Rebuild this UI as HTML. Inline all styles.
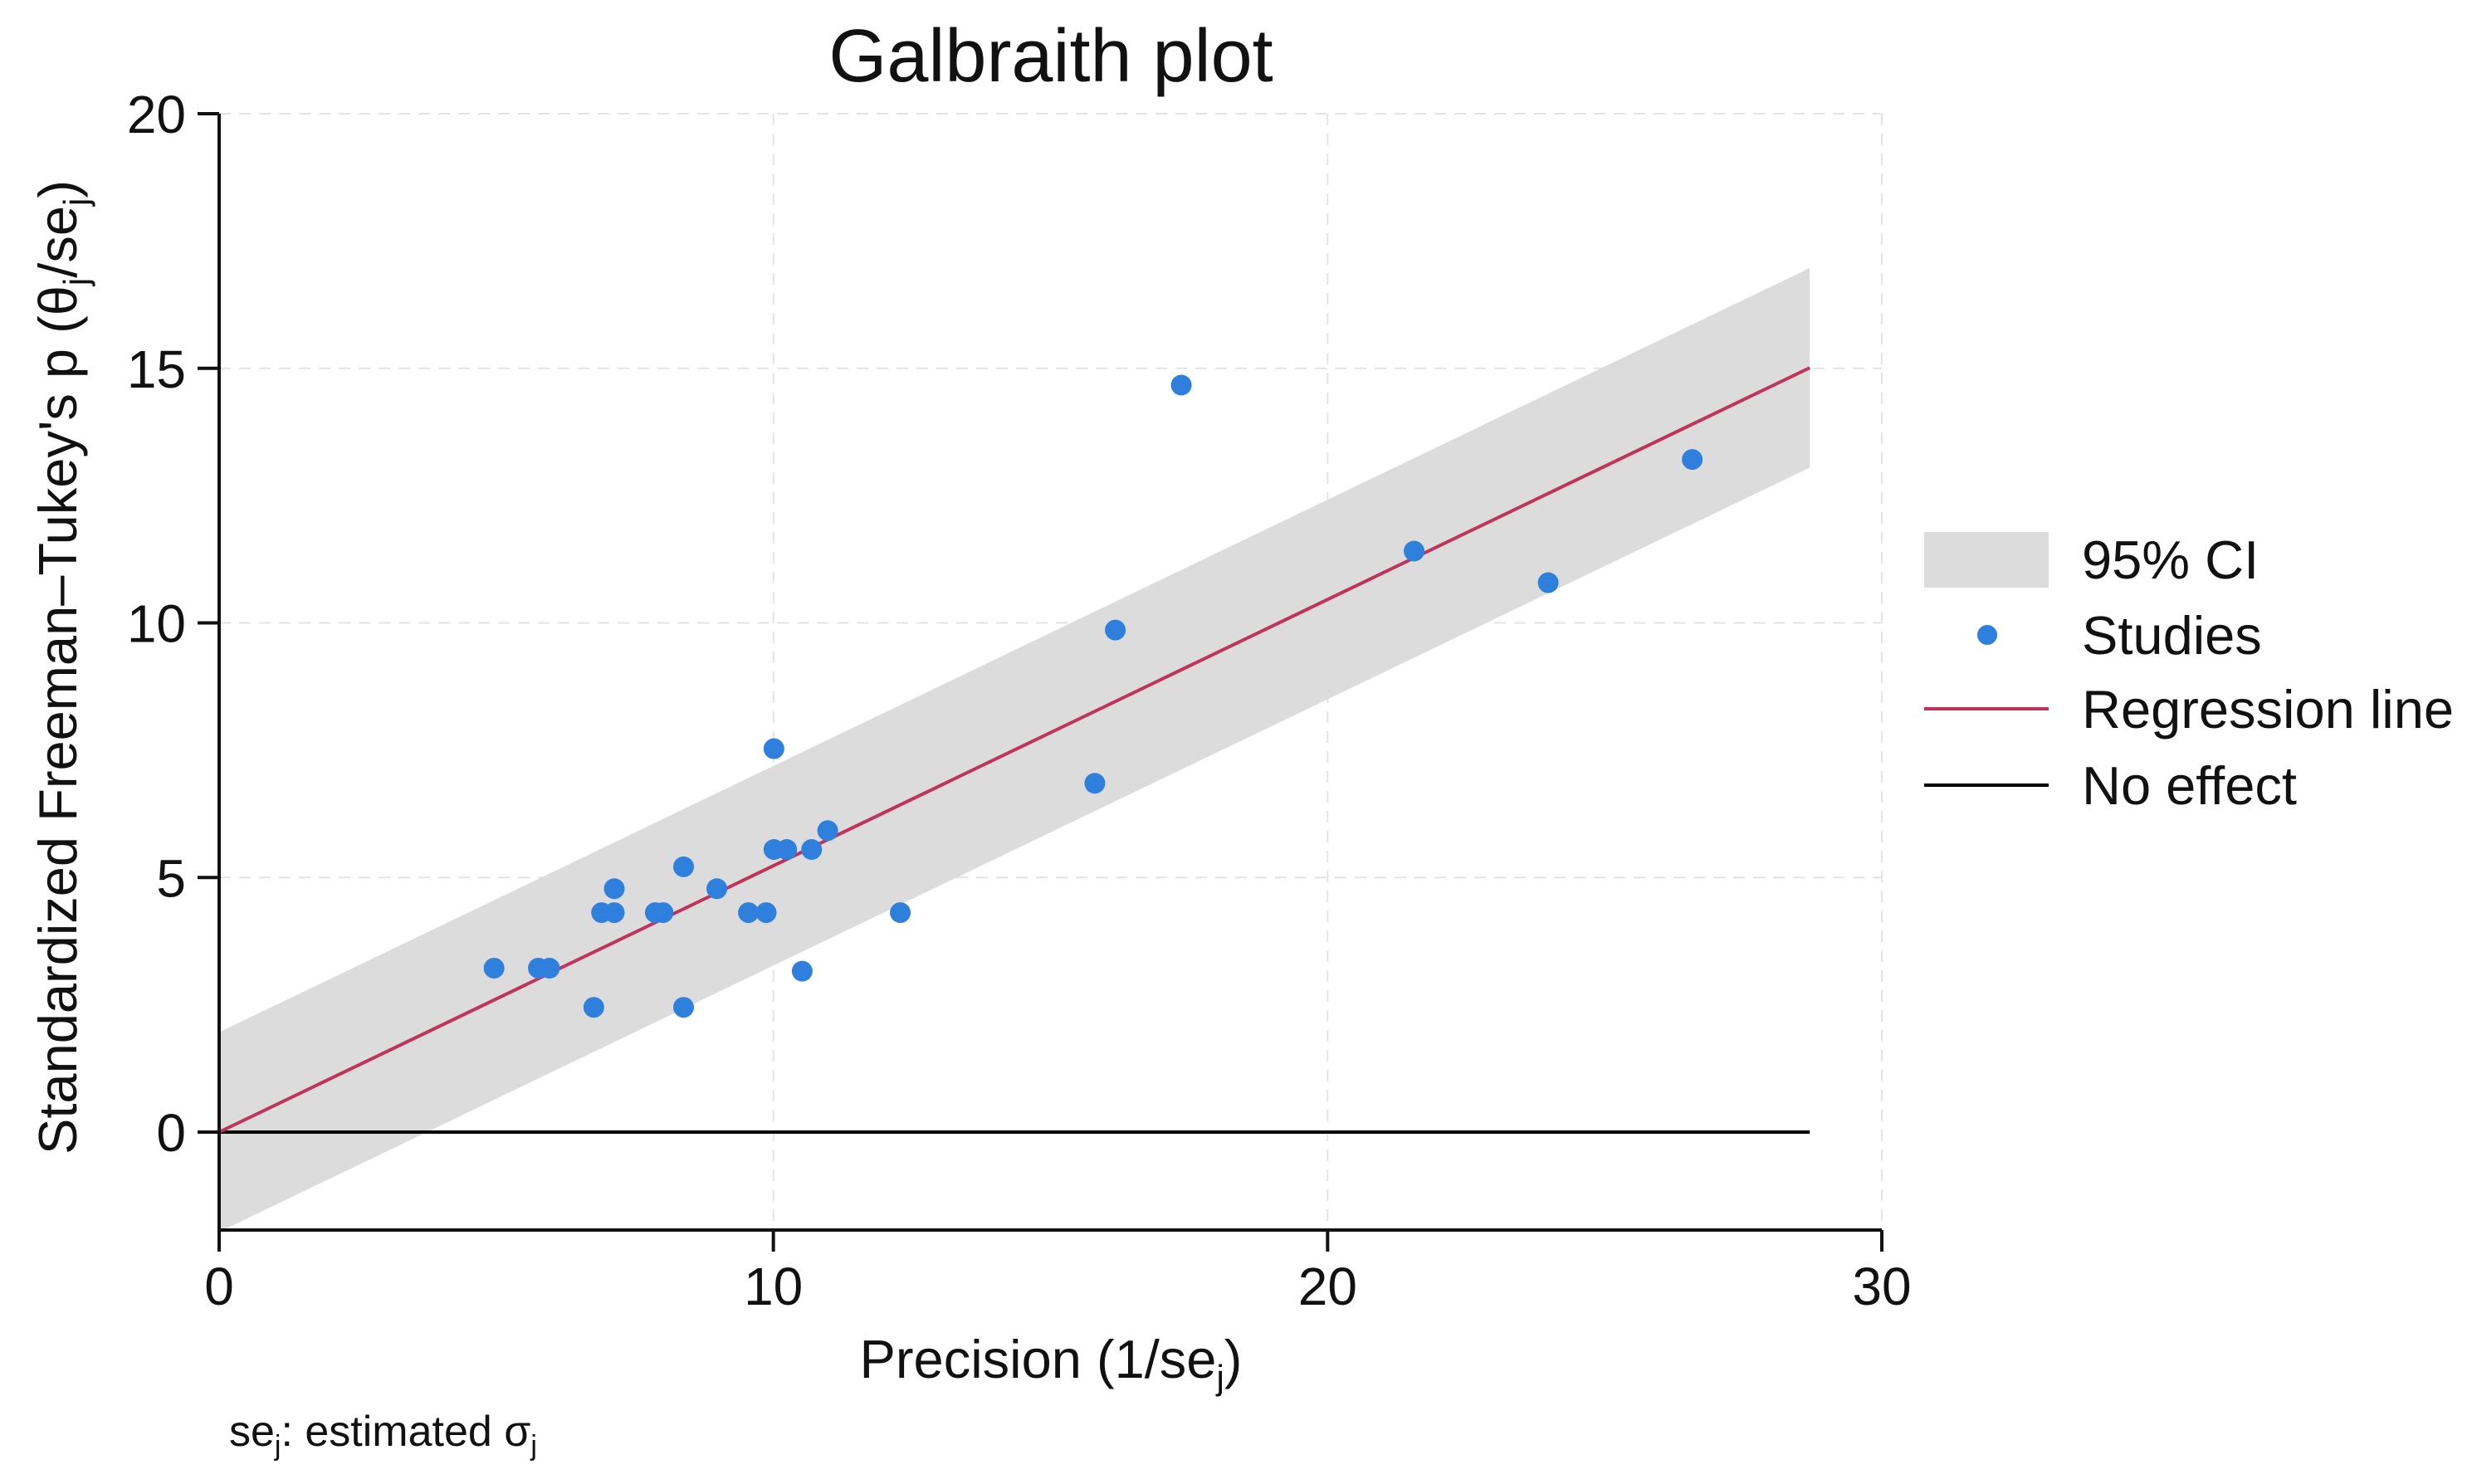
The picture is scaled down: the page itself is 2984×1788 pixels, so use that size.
<!DOCTYPE html>
<html><head><meta charset="utf-8"><style>
html,body{margin:0;padding:0;background:#fff;}
svg{display:block;font-family:"Liberation Sans",sans-serif;}
</style></head><body>
<svg id="chart" width="2984" height="1788" viewBox="0 0 2984 1788">
<text x="1266" y="98" font-size="90" text-anchor="middle" fill="#111">Galbraith plot</text>
<g id="grid"></g>
<g id="band"></g>
<g id="lines"></g>
<g id="pts"></g>
<g id="axes"></g>
<text transform="translate(92,804) rotate(-90)" font-size="65" text-anchor="middle" fill="#111">Standardized Freeman–Tukey's p (θ<tspan font-size="42" dy="14">j</tspan><tspan dy="-14">/se</tspan><tspan font-size="42" dy="14">j</tspan><tspan dy="-14">)</tspan></text>
<text x="1266" y="1660" font-size="65" text-anchor="middle" fill="#111">Precision (1/se<tspan font-size="42" dy="14">j</tspan><tspan dy="-14">)</tspan></text>
<text x="276" y="1742" font-size="52" fill="#111">se<tspan font-size="34" dy="11">j</tspan><tspan dy="-11">: estimated σ</tspan><tspan font-size="34" dy="11">j</tspan></text>
<g>
<rect x="2318" y="641" width="150" height="67" fill="#dcdcdc"/>
<text x="2508" y="697" font-size="65" fill="#111">95% CI</text>
<circle cx="2394" cy="765" r="12" fill="#2f80dc"/>
<text x="2508" y="788" font-size="65" fill="#111">Studies</text>
<line x1="2318" y1="854" x2="2468" y2="854" stroke="#c0335a" stroke-width="4"/>
<text x="2508" y="877" font-size="65" fill="#111">Regression line</text>
<line x1="2318" y1="946" x2="2468" y2="946" stroke="#000" stroke-width="4"/>
<text x="2508" y="969" font-size="65" fill="#111">No effect</text>
</g>
</svg>
<script>
const precision=[4.96,5.76,5.96,6.76,6.9,7.13,7.13,7.87,8.01,8.38,8.38,8.98,9.55,9.87,10.01,10.01,10.24,10.52,10.69,10.98,12.29,15.8,16.17,17.36,21.56,23.98,26.58];
const stdEffect=[3.22,3.22,3.22,2.45,4.31,4.31,4.78,4.31,4.31,5.21,2.45,4.78,4.31,4.31,7.53,5.55,5.55,3.16,5.55,5.92,4.31,6.85,9.86,14.67,11.41,10.79,13.21];
const slope=[0.523];
const ciHalf=[1.96];
const xMaxLine=[28.7];
const xTicks=[0,10,20,30];
const yTicks=[0,5,10,15,20];
const NS="http://www.w3.org/2000/svg";
const X=v=>264+v*(2267-264)/30;
const Y=v=>1364-v*(1364-137)/20;
const yBottom=1482;
function mk(tag,attrs,parent){const e=document.createElementNS(NS,tag);for(const k in attrs)e.setAttribute(k,attrs[k]);document.getElementById(parent).appendChild(e);return e;}
yTicks.forEach(t=>{if(t===0)return;
 const g=mk('line',{x1:X(0),x2:X(30),y1:Y(t),y2:Y(t),stroke:'#e4e4e4','stroke-width':2,'stroke-dasharray':'14 10'},'grid');
 
 });
xTicks.forEach(t=>{if(t===0)return;
 const g=mk('line',{x1:X(t),x2:X(t),y1:Y(20),y2:yBottom,stroke:'#e4e4e4','stroke-width':2,'stroke-dasharray':'14 10'},'grid');
 
 });
const xm=xMaxLine[0],b=slope[0],h=ciHalf[0];
const band=mk('polygon',{points:`${X(0)},${Y(h)} ${X(xm)},${Y(b*xm+h)} ${X(xm)},${Y(b*xm-h)} ${X(0)},${Y(-h)}`,fill:'#dcdcdc'},'band');


const z=mk('line',{x1:X(0),y1:Y(0),x2:X(xm),y2:Y(0),stroke:'#000','stroke-width':4},'lines');


const r=mk('line',{x1:X(0),y1:Y(0),x2:X(xm),y2:Y(b*xm),stroke:'#c0335a','stroke-width':4},'lines');


precision.forEach((p,i)=>{
 const c=mk('circle',{cx:X(p),cy:Y(stdEffect[i]),r:12.5,fill:'#2f80dc'},'pts');
 
 });
const ax=mk('line',{x1:264,y1:Y(20),x2:264,y2:yBottom,stroke:'#111','stroke-width':4},'axes');


const bx=mk('line',{x1:262,y1:yBottom,x2:X(30),y2:yBottom,stroke:'#111','stroke-width':4},'axes');


yTicks.forEach(t=>{
 const l=mk('line',{x1:238,x2:264,y1:Y(t),y2:Y(t),stroke:'#111','stroke-width':4},'axes');
 
 
 const tx=mk('text',{x:224,y:Y(t)+23,'font-size':64,'text-anchor':'end',fill:'#111'},'axes');
 tx.textContent=t;
 
 });
xTicks.forEach(t=>{
 const l=mk('line',{x1:X(t),x2:X(t),y1:yBottom,y2:yBottom+26,stroke:'#111','stroke-width':4},'axes');
 
 
 const tx=mk('text',{x:X(t),y:yBottom+90,'font-size':64,'text-anchor':'middle',fill:'#111'},'axes');
 tx.textContent=t;
 
 });
</script>
</body></html>
